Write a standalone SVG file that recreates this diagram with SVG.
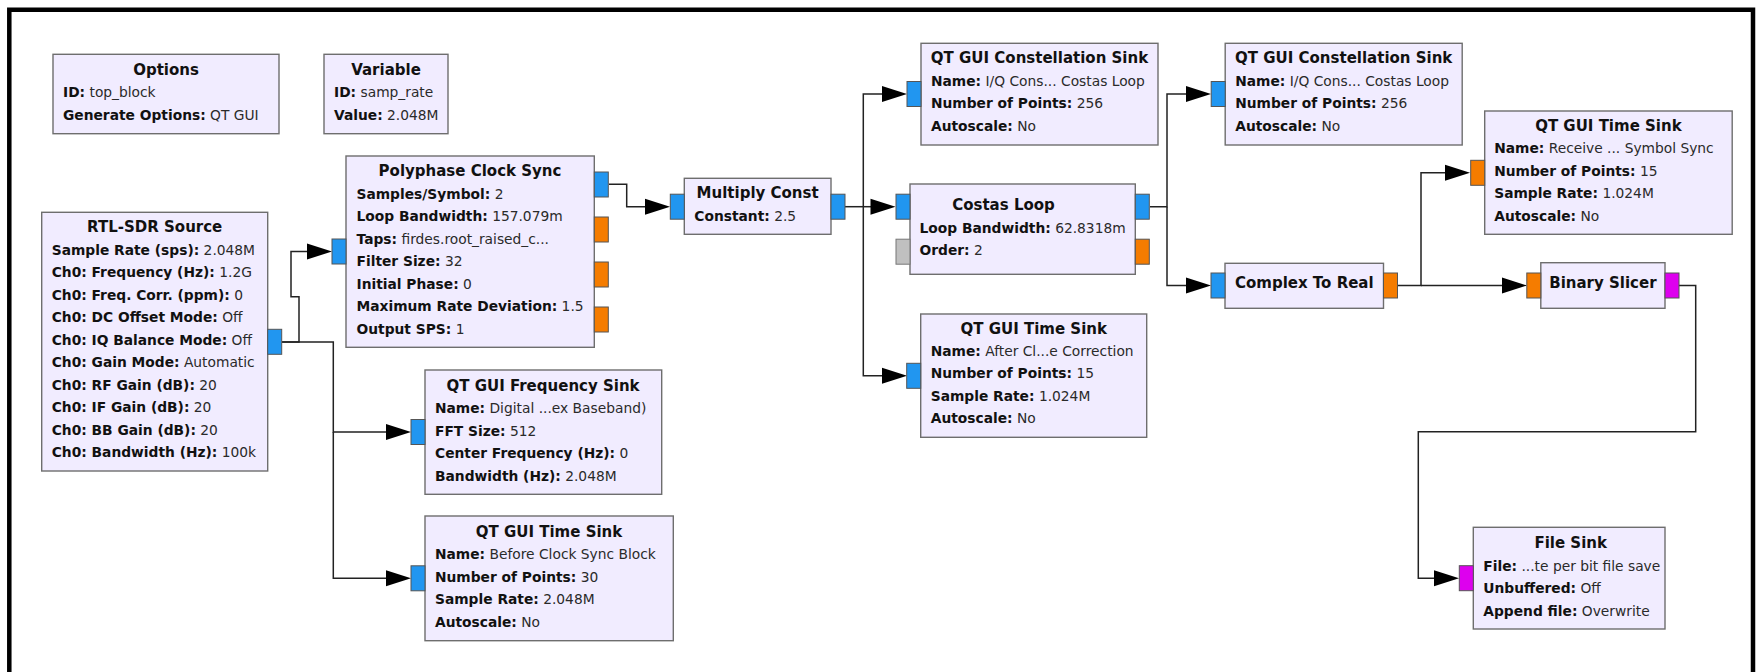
<svg xmlns="http://www.w3.org/2000/svg" width="1759" height="672" viewBox="0 0 1759 672">
<style>
.blk{fill:#F1ECFF;stroke:#6e6e6e;stroke-width:1.4}
.t{font-family:"DejaVu Sans",sans-serif;font-weight:bold;font-size:15px;fill:#111;text-anchor:middle}
.r{font-family:"DejaVu Sans",sans-serif;font-size:13.8px;fill:#2a2a2a}
.r .b{font-weight:bold;fill:#111}
.pc{fill:#2196F0;stroke:#555;stroke-width:1}
.pf{fill:#F57C00;stroke:#555;stroke-width:1}
.pb{fill:#DD00EE;stroke:#555;stroke-width:1}
.pm{fill:#C0C0C0;stroke:#777;stroke-width:1}
.w{fill:none;stroke:#222;stroke-width:1.5}
.a{fill:#000}
</style>
<defs>
<polygon id="arr" points="0,0 -25,-8 -25,8"/>
</defs>
<rect x="0" y="0" width="1759" height="672" fill="#fff"/>
<path d="M9.3,672 V9.8 H1753 V672" fill="none" stroke="#000" stroke-width="4.5"/>

<g id="connectors">
<path class="w" d="M282,342 H299 V296.7 H291 V251.5 H310"/>
<path class="w" d="M282,342 H333.3 V432 H390"/>
<path class="w" d="M333.3,432 V578.3 H390"/>
<path class="w" d="M609,184.3 H626.7 V206.7 H650"/>
<path class="w" d="M845,206.7 H875"/>
<path class="w" d="M863.3,206.7 V94 H886"/>
<path class="w" d="M863.3,206.7 V375.8 H886"/>
<path class="w" d="M1150,206.7 H1167 V94 H1190"/>
<path class="w" d="M1167,206.7 V285.5 H1190"/>
<path class="w" d="M1397,285.5 H1421 V172.8 H1450"/>
<path class="w" d="M1421,285.5 H1505"/>
<path class="w" d="M1679,285.5 H1695.7 V431.7 H1418.3 V578.3 H1440"/>
<use href="#arr" class="a" x="332" y="251.5"/>
<use href="#arr" class="a" x="411" y="432"/>
<use href="#arr" class="a" x="411" y="578.3"/>
<use href="#arr" class="a" x="670" y="206.7"/>
<use href="#arr" class="a" x="895.5" y="206.7"/>
<use href="#arr" class="a" x="907" y="94"/>
<use href="#arr" class="a" x="907" y="375.8"/>
<use href="#arr" class="a" x="1211" y="94"/>
<use href="#arr" class="a" x="1211" y="285.5"/>
<use href="#arr" class="a" x="1470" y="172.8"/>
<use href="#arr" class="a" x="1527" y="285.5"/>
<use href="#arr" class="a" x="1459" y="578.3"/>
</g>

<g id="options" transform="translate(53,54.3)">
<rect class="blk" x="0" y="0" width="226" height="79.4"/>
<text class="t" x="113" y="20.5">Options</text>
<text class="r" x="10" y="43.2"><tspan class="b">ID:</tspan> top_block</text>
<text class="r" x="10" y="65.7"><tspan class="b">Generate Options:</tspan> QT GUI</text>
</g>

<g id="variable" transform="translate(324,54.3)">
<rect class="blk" x="0" y="0" width="124" height="79.4"/>
<text class="t" x="62" y="20.5">Variable</text>
<text class="r" x="10" y="43.2"><tspan class="b">ID:</tspan> samp_rate</text>
<text class="r" x="10" y="65.7"><tspan class="b">Value:</tspan> 2.048M</text>
</g>

<g id="rtlsdr" transform="translate(41.7,212.3)">
<rect class="blk" x="0" y="0" width="226" height="258.7"/>
<rect class="pc" x="226" y="117" width="14" height="25"/>
<text class="t" x="113" y="20">RTL-SDR Source</text>
<text class="r" x="10" y="42.7"><tspan class="b">Sample Rate (sps):</tspan> 2.048M</text>
<text class="r" x="10" y="65.2"><tspan class="b">Ch0: Frequency (Hz):</tspan> 1.2G</text>
<text class="r" x="10" y="87.7"><tspan class="b">Ch0: Freq. Corr. (ppm):</tspan> 0</text>
<text class="r" x="10" y="110.2"><tspan class="b">Ch0: DC Offset Mode:</tspan> Off</text>
<text class="r" x="10" y="132.7"><tspan class="b">Ch0: IQ Balance Mode:</tspan> Off</text>
<text class="r" x="10" y="155.2"><tspan class="b">Ch0: Gain Mode:</tspan> Automatic</text>
<text class="r" x="10" y="177.7"><tspan class="b">Ch0: RF Gain (dB):</tspan> 20</text>
<text class="r" x="10" y="200.2"><tspan class="b">Ch0: IF Gain (dB):</tspan> 20</text>
<text class="r" x="10" y="222.7"><tspan class="b">Ch0: BB Gain (dB):</tspan> 20</text>
<text class="r" x="10" y="245.2"><tspan class="b">Ch0: Bandwidth (Hz):</tspan> 100k</text>
</g>

<g id="polyphase" transform="translate(346,156)">
<rect class="blk" x="0" y="0" width="248.3" height="191.3"/>
<rect class="pc" x="-14" y="83" width="14" height="25"/>
<rect class="pc" x="248.3" y="16" width="14" height="25"/>
<rect class="pf" x="248.3" y="61" width="14" height="25"/>
<rect class="pf" x="248.3" y="106" width="14" height="25"/>
<rect class="pf" x="248.3" y="151" width="14" height="25"/>
<text class="t" x="124" y="20">Polyphase Clock Sync</text>
<text class="r" x="10.5" y="42.5"><tspan class="b">Samples/Symbol:</tspan> 2</text>
<text class="r" x="10.5" y="65"><tspan class="b">Loop Bandwidth:</tspan> 157.079m</text>
<text class="r" x="10.5" y="87.5"><tspan class="b">Taps:</tspan> firdes.root_raised_c...</text>
<text class="r" x="10.5" y="110"><tspan class="b">Filter Size:</tspan> 32</text>
<text class="r" x="10.5" y="132.5"><tspan class="b">Initial Phase:</tspan> 0</text>
<text class="r" x="10.5" y="155"><tspan class="b">Maximum Rate Deviation:</tspan> 1.5</text>
<text class="r" x="10.5" y="177.5"><tspan class="b">Output SPS:</tspan> 1</text>
</g>

<g id="freqsink" transform="translate(425,370)">
<rect class="blk" x="0" y="0" width="236.7" height="124.3"/>
<rect class="pc" x="-14" y="49.5" width="14" height="25"/>
<text class="t" x="118" y="20.5">QT GUI Frequency Sink</text>
<text class="r" x="10" y="43.2"><tspan class="b">Name:</tspan> Digital ...ex Baseband)</text>
<text class="r" x="10" y="65.7"><tspan class="b">FFT Size:</tspan> 512</text>
<text class="r" x="10" y="88.2"><tspan class="b">Center Frequency (Hz):</tspan> 0</text>
<text class="r" x="10" y="110.7"><tspan class="b">Bandwidth (Hz):</tspan> 2.048M</text>
</g>

<g id="timesink_before" transform="translate(425,516)">
<rect class="blk" x="0" y="0" width="248.3" height="124.7"/>
<rect class="pc" x="-14" y="49.8" width="14" height="25"/>
<text class="t" x="124" y="20.5">QT GUI Time Sink</text>
<text class="r" x="10" y="43"><tspan class="b">Name:</tspan> Before Clock Sync Block</text>
<text class="r" x="10" y="65.5"><tspan class="b">Number of Points:</tspan> 30</text>
<text class="r" x="10" y="88"><tspan class="b">Sample Rate:</tspan> 2.048M</text>
<text class="r" x="10" y="110.5"><tspan class="b">Autoscale:</tspan> No</text>
</g>

<g id="multiply" transform="translate(684.3,178.3)">
<rect class="blk" x="0" y="0" width="146.7" height="56"/>
<rect class="pc" x="-14" y="15.9" width="14" height="25"/>
<rect class="pc" x="146.7" y="15.9" width="14" height="25"/>
<text class="t" x="73.3" y="20">Multiply Const</text>
<text class="r" x="10" y="42.4"><tspan class="b">Constant:</tspan> 2.5</text>
</g>

<g id="constsink1" transform="translate(921,43.3)">
<rect class="blk" x="0" y="0" width="237" height="101.7"/>
<rect class="pc" x="-14" y="38.2" width="14" height="25"/>
<text class="t" x="118.5" y="20">QT GUI Constellation Sink</text>
<text class="r" x="10" y="42.7"><tspan class="b">Name:</tspan> I/Q Cons... Costas Loop</text>
<text class="r" x="10" y="65.2"><tspan class="b">Number of Points:</tspan> 256</text>
<text class="r" x="10" y="87.7"><tspan class="b">Autoscale:</tspan> No</text>
</g>

<g id="costas" transform="translate(910,184)">
<rect class="blk" x="0" y="0" width="225.3" height="90.3"/>
<rect class="pc" x="-14" y="10.2" width="14" height="25"/>
<rect class="pm" x="-14" y="55.2" width="14" height="25"/>
<rect class="pc" x="225.3" y="10.2" width="14" height="25"/>
<rect class="pf" x="225.3" y="55.2" width="14" height="25"/>
<text class="t" x="93.5" y="26">Costas Loop</text>
<text class="r" x="9.5" y="48.7"><tspan class="b">Loop Bandwidth:</tspan> 62.8318m</text>
<text class="r" x="9.5" y="71"><tspan class="b">Order:</tspan> 2</text>
</g>

<g id="timesink_after" transform="translate(920.7,314)">
<rect class="blk" x="0" y="0" width="226" height="123.3"/>
<rect class="pc" x="-14" y="49.3" width="14" height="25"/>
<text class="t" x="113" y="19.5">QT GUI Time Sink</text>
<text class="r" x="10" y="41.9"><tspan class="b">Name:</tspan> After Cl...e Correction</text>
<text class="r" x="10" y="64.4"><tspan class="b">Number of Points:</tspan> 15</text>
<text class="r" x="10" y="86.9"><tspan class="b">Sample Rate:</tspan> 1.024M</text>
<text class="r" x="10" y="109.4"><tspan class="b">Autoscale:</tspan> No</text>
</g>

<g id="constsink2" transform="translate(1225.2,43.3)">
<rect class="blk" x="0" y="0" width="237" height="101.7"/>
<rect class="pc" x="-14" y="38.2" width="14" height="25"/>
<text class="t" x="118.5" y="20">QT GUI Constellation Sink</text>
<text class="r" x="10" y="42.7"><tspan class="b">Name:</tspan> I/Q Cons... Costas Loop</text>
<text class="r" x="10" y="65.2"><tspan class="b">Number of Points:</tspan> 256</text>
<text class="r" x="10" y="87.7"><tspan class="b">Autoscale:</tspan> No</text>
</g>

<g id="complex2real" transform="translate(1225,263.3)">
<rect class="blk" x="0" y="0" width="158.5" height="45"/>
<rect class="pc" x="-14" y="9.7" width="14" height="25"/>
<rect class="pf" x="158.5" y="9.7" width="14" height="25"/>
<text class="t" x="79.3" y="25">Complex To Real</text>
</g>

<g id="timesink_receive" transform="translate(1484.7,111)">
<rect class="blk" x="0" y="0" width="247.5" height="123.3"/>
<rect class="pf" x="-14" y="49.3" width="14" height="25"/>
<text class="t" x="123.7" y="19.5">QT GUI Time Sink</text>
<text class="r" x="9.5" y="42.3"><tspan class="b">Name:</tspan> Receive ... Symbol Sync</text>
<text class="r" x="9.5" y="64.8"><tspan class="b">Number of Points:</tspan> 15</text>
<text class="r" x="9.5" y="87.3"><tspan class="b">Sample Rate:</tspan> 1.024M</text>
<text class="r" x="9.5" y="109.8"><tspan class="b">Autoscale:</tspan> No</text>
</g>

<g id="binaryslicer" transform="translate(1540.8,262.7)">
<rect class="blk" x="0" y="0" width="124.2" height="45.6"/>
<rect class="pf" x="-14" y="10.3" width="14" height="25"/>
<rect class="pb" x="124.2" y="10.3" width="14" height="25"/>
<text class="t" x="62.1" y="25.6">Binary Slicer</text>
</g>

<g id="filesink" transform="translate(1473.3,527.3)">
<rect class="blk" x="0" y="0" width="191.7" height="101.7"/>
<rect class="pb" x="-14" y="38.4" width="14" height="25"/>
<text class="t" x="97.4" y="21">File Sink</text>
<text class="r" x="10" y="43.4"><tspan class="b">File:</tspan> ...te per bit file save</text>
<text class="r" x="10" y="65.7"><tspan class="b">Unbuffered:</tspan> Off</text>
<text class="r" x="10" y="88.4"><tspan class="b">Append file:</tspan> Overwrite</text>
</g>
</svg>
